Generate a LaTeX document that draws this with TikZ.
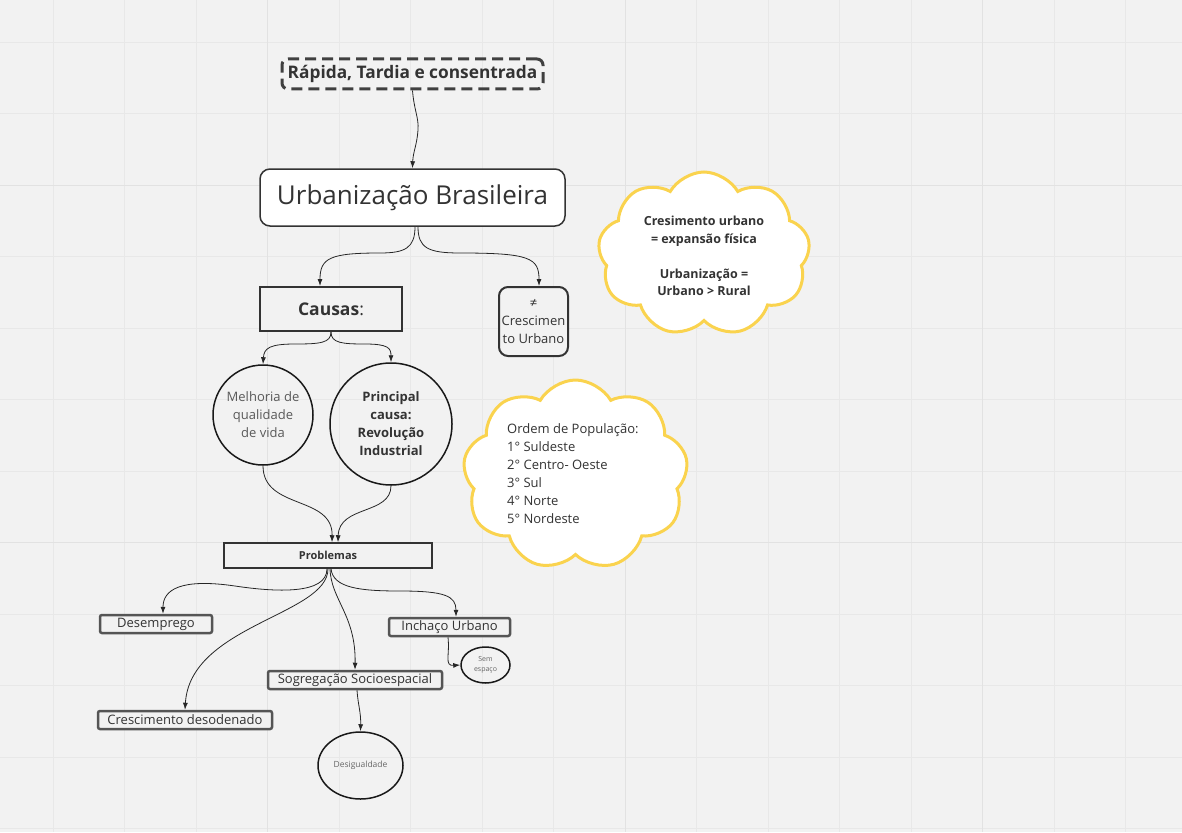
\documentclass[tikz,border=0pt]{standalone}
\usepackage{fontspec}
\setmainfont{Open Sans}
\usetikzlibrary{arrows.meta,shapes.geometric,shapes.symbols}
\definecolor{bg}{HTML}{F2F2F2}
\definecolor{gridc}{HTML}{E8E8E8}
\definecolor{gridm}{HTML}{E2E2E2}
\definecolor{txt}{HTML}{333333}
\definecolor{edge}{HTML}{333333}
\definecolor{boxedge}{HTML}{555555}
\definecolor{yel}{HTML}{FAD34E}
\newcommand\myfs[2]{\fontsize{#1}{#2}\selectfont}
\begin{document}
\begin{tikzpicture}[x=1pt,y=-1pt,
  arr/.style={draw=black!85, line width=0.8pt, -{Latex[length=7pt,width=5pt]}},
  probbox/.style={draw=boxedge, line width=2.5pt, rounded corners=2pt, fill=bg,
    font=\myfs{13}{16}, text=txt, inner sep=0pt, minimum height=18},
  circ/.style={draw=black!90, line width=1.5pt, circle, inner sep=0pt, align=center, text=txt, font=\myfs{13}{18}},
  ell/.style={draw=black!90, line width=1.5pt, ellipse, inner sep=0pt, align=center, text=black!60},
  cloudshape/.style={cloud, cloud puffs=9, cloud puff arc=120, cloud ignores aspect, draw=yel, line width=3pt, fill=white, inner sep=0pt},
]
\useasboundingbox (0,0) rectangle (1182,832);
\fill[bg] (0,0) rectangle (1182,832);
\foreach \i in {0,...,15} \draw[gridc, line width=0.8pt] ({53+71.5*\i},0) -- ({53+71.5*\i},832);
\foreach \i in {0,...,11} \draw[gridc, line width=0.8pt] (0,{42+71.5*\i}) -- (1182,{42+71.5*\i});
\foreach \x in {267.5,625,982.5} \draw[gridm, line width=1pt] (\x,0) -- (\x,832);
\foreach \y in {185,542.5} \draw[gridm, line width=1pt] (0,\y) -- (1182,\y);

% nodes
\node[draw=black!75, line width=3pt, dash pattern=on 11pt off 6pt, rounded corners=6pt,
      minimum width=261, minimum height=30, inner sep=0pt, text=txt, font=\bfseries\myfs{17.3}{19}]
      (rapida) at (412.5,74) {Rápida, Tardia e consentrada};
\node[draw=edge, line width=1.5pt, rounded corners=10pt, fill=white, minimum width=305, minimum height=57,
      inner sep=0pt, text=txt, font=\myfs{26}{29}] (urb) at (412.5,197.5) {Urbanização Brasileira};
\node[draw=edge, line width=2pt, fill=bg, minimum width=142, minimum height=44, inner sep=0pt,
      text=txt, font=\myfs{17.5}{20}] (causas) at (331,309) {\textbf{Causas}:};
\node[draw=edge, line width=2pt, rounded corners=9pt, fill=bg, minimum width=69, minimum height=69,
      inner sep=0pt, align=center, text=txt, font=\myfs{13}{18}] (neq) at (533.5,321.5) {≠\\Crescimen\\to Urbano};
\node[circ, minimum size=100, text=black!65] (melhoria) at (263,415) {Melhoria de\\qualidade\\de vida};
\node[circ, minimum size=122, font=\bfseries\myfs{13}{18}] (principal) at (391,424) {Principal\\causa:\\Revolução\\Industrial};
\node[draw=edge, line width=1.5pt, fill=bg, minimum width=208, minimum height=25, inner sep=0pt,
      text=txt, font=\bfseries\myfs{11}{13}] (problemas) at (328,555.5) {Problemas};
\node[probbox, minimum width=112] (desemprego) at (156,624) {Desemprego};
\node[probbox, minimum width=121] (inchaco) at (449.5,627) {Inchaço Urbano};
\node[probbox, minimum width=174] (sogreg) at (355,680) {Sogregação Socioespacial};
\node[probbox, minimum width=174] (cresc) at (185,720) {Crescimento desodenado};
\node[ell, minimum width=49, minimum height=36, font=\myfs{7}{10}] (sem) at (485.5,665) {Sem\\espaço};
\node[ell, minimum width=85, minimum height=67, font=\myfs{8.5}{10}] (desig) at (360.5,765.5) {Desigualdade};

% clouds
\node[cloudshape, minimum width=212, minimum height=164] (cloudA) at (704,254) {};
\node[align=center, text=txt, font=\bfseries\myfs{12.5}{17.5}] (cloudAtext) at (704,256)
  {Cresimento urbano\\= expansão física\\[17.5pt]Urbanização =\\Urbano > Rural};
\node[cloudshape, minimum width=225, minimum height=190] (cloudB) at (575.5,475) {};
\node[align=left, anchor=north west, inner sep=0pt, text=txt, font=\myfs{13}{18}] (cloudBtext) at (507,423)
  {Ordem de População:\\1° Suldeste\\2° Centro- Oeste\\3° Sul\\4° Norte\\5° Nordeste};

% connectors
\draw[arr] (rapida.south) .. controls (414,110) and (419,118) .. (418,130) .. controls (417,145) and (413,152) .. (urb.north);
\draw[arr] ([xshift=2.5]urb.south) .. controls (415,248) and (405,253) .. (380,253) .. controls (330,253) and (320,258) .. ([xshift=-11]causas.north);
\draw[arr] ([xshift=5.5]urb.south) .. controls (418,248) and (428,253) .. (460,253) .. controls (530,253) and (539,258) .. ([xshift=5.5]neq.north);
\draw[arr] (causas.south) .. controls (331,343) and (320,344) .. (295,344) .. controls (270,344) and (264,348) .. (melhoria.north);
\draw[arr] (causas.south) .. controls (331,343) and (342,344) .. (365,344) .. controls (388,344) and (391,348) .. (principal.north);
\draw[arr] (melhoria.south) .. controls (263,510) and (333,495) .. ([xshift=4]problemas.north);
\draw[arr] (principal.south) .. controls (391,515) and (339,505) .. ([xshift=10]problemas.north);
\draw[arr] ([xshift=-1]problemas.south) .. controls (327,595) and (275,592) .. (235,586) .. controls (180,578) and (163,590) .. ([xshift=7]desemprego.north);
\draw[arr] (problemas.south) .. controls (328,615) and (190,625) .. (cresc.north);
\draw[arr] ([xshift=2]problemas.south) .. controls (331,600) and (356,615) .. (sogreg.north);
\draw[arr] ([xshift=3]problemas.south) .. controls (333,588) and (360,591) .. (400,591) .. controls (445,591) and (456,596) .. ([xshift=6.5]inchaco.north);
\draw[arr] ([xshift=-1.5]inchaco.south) .. controls (450,655) and (444,666) .. (sem.west);
\draw[arr] ([xshift=2]sogreg.south) .. controls (358,705) and (361,712) .. (desig.north);
\end{tikzpicture}
\end{document}
